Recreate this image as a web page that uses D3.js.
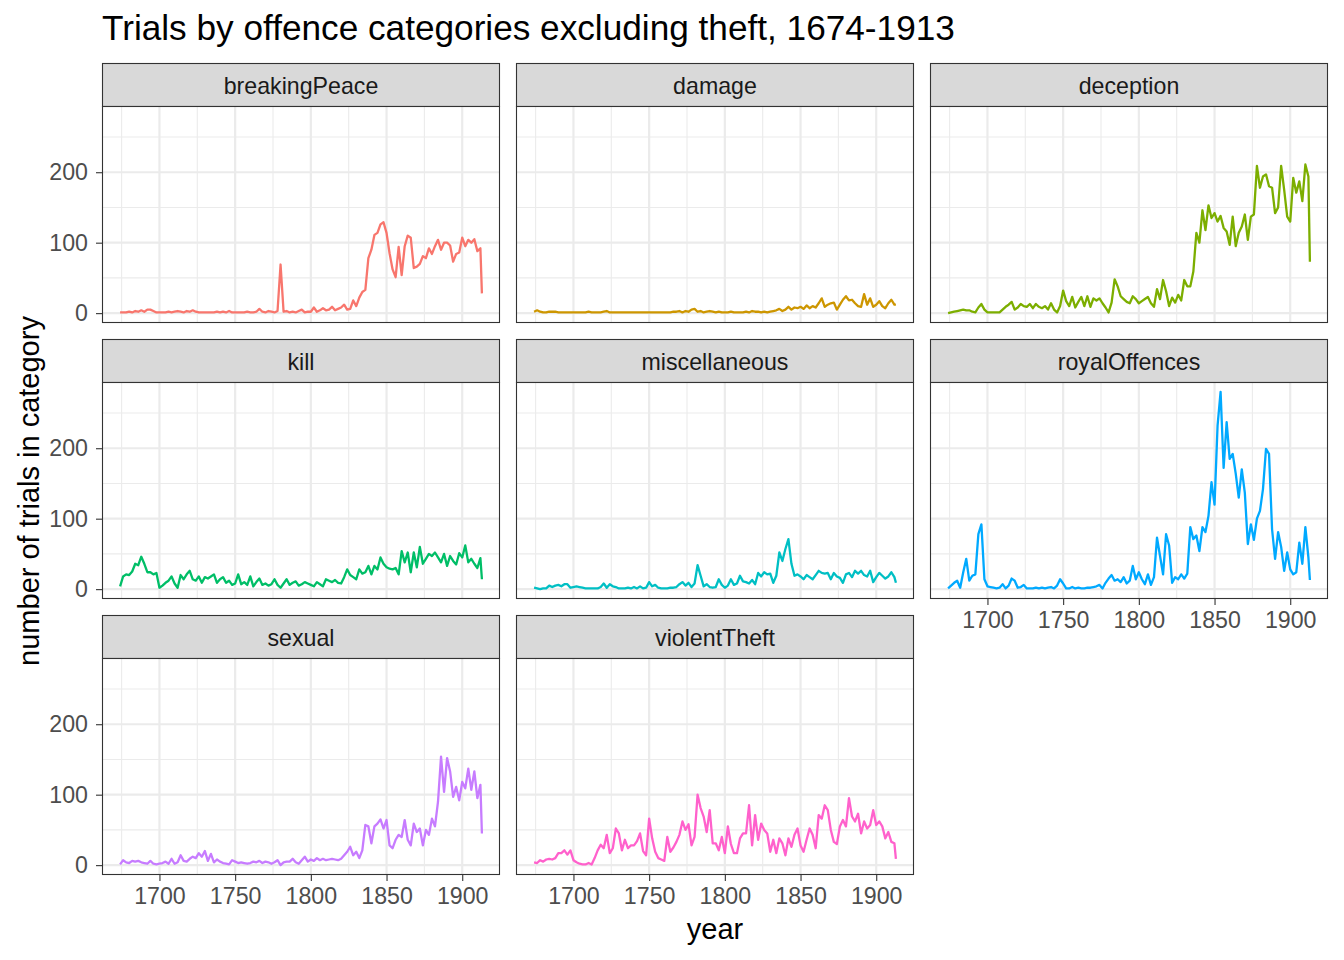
<!DOCTYPE html>
<html>
<head>
<meta charset="utf-8">
<script src="https://cdn.jsdelivr.net/npm/d3@7"></script>
<style>
  body { margin: 0; background: #fff; }
  text { font-family: "Liberation Sans", Arial, Helvetica, sans-serif; }
</style>
</head>
<body>
<div id="chart"></div>
<script>
// years sampled every second year, plus the last year of the series
const YEARS = d3.range(1674, 1913, 2).concat([1913]);

const CATEGORIES = ['breakingPeace', 'damage', 'deception', 'kill',
                    'miscellaneous', 'royalOffences', 'sexual', 'violentTheft'];
const COLOURS = ['#F8766D', '#CD9600', '#7CAE00', '#00BE67',
                 '#00BFC4', '#00A9FF', '#C77CFF', '#FF61CC'];

const breakingPeace = [
  1,1,1,2,1,3,2,4,2,5,
  5,3,1,1,1,1,2,1,2,3,
  2,1,3,2,4,2,1,1,1,1,
  1,1,2,1,2,1,3,1,1,1,
  1,1,2,1,1,2,6,2,1,3,
  2,1,3,69,2,3,1,2,1,3,
  5,1,2,2,8,2,4,7,4,5,
  9,4,6,8,12,5,6,18,10,22,
  30,33,78,90,111,114,126,129,114,85,
  62,51,94,54,95,110,107,64,66,70,
  81,78,92,84,95,104,90,100,100,96,
  73,84,86,107,95,104,100,105,88,92,
  28];
const damage = [
  2,4,2,1,1,2,2,2,1,1,
  1,1,1,1,1,1,1,1,2,1,
  1,1,1,2,3,1,1,1,1,1,
  1,1,1,1,1,1,1,1,1,1,
  1,1,1,1,1,1,2,2,3,1,
  3,2,5,6,2,3,1,2,3,2,
  1,2,1,1,1,2,1,1,1,1,
  2,1,3,2,2,1,2,1,2,3,
  4,6,3,5,9,5,8,7,9,6,
  11,7,10,8,14,21,9,12,14,15,
  5,12,19,24,18,19,14,10,9,27,
  12,21,9,12,17,10,7,14,19,12,
  12];
const deception = [
  0,1,2,3,4,5,4,4,2,1,
  8,13,5,1,1,1,1,1,5,9,
  12,16,5,8,13,10,9,13,7,13,
  9,7,10,5,14,5,1,10,32,17,
  10,23,8,16,23,10,24,9,21,18,
  21,14,8,1,15,48,38,24,20,16,
  14,24,20,14,17,20,23,14,9,34,
  20,47,31,10,22,15,26,18,47,38,
  38,59,114,100,146,118,153,135,142,130,
  138,121,116,97,137,95,114,123,140,104,
  137,140,209,178,194,197,180,178,142,150,
  209,175,137,130,192,171,187,159,211,194,
  73];
const kill = [
  4,18,21,20,25,36,34,46,36,24,
  24,21,23,2,5,9,12,18,8,2,
  20,14,21,26,14,12,18,9,17,15,
  18,21,9,14,17,9,12,6,8,21,
  7,10,6,18,4,10,15,6,8,5,
  7,14,6,2,8,14,6,9,11,5,
  7,10,8,6,4,10,7,4,14,12,
  10,13,9,8,17,28,20,17,14,28,
  22,24,33,21,33,28,45,36,31,29,
  28,30,21,54,38,52,24,52,31,60,
  36,43,50,47,52,45,38,50,33,47,
  40,35,51,45,62,38,43,36,30,44,
  14];
const miscellaneous = [
  2,1,0,1,1,5,3,5,6,4,
  7,7,2,3,4,3,2,1,1,1,
  1,1,3,8,2,7,4,3,1,1,
  1,2,1,3,1,4,1,2,10,4,
  6,2,1,1,1,2,2,3,7,10,
  5,9,3,8,34,19,4,7,3,2,
  3,14,6,2,5,14,6,8,19,11,
  10,8,13,7,23,18,24,21,22,9,
  19,52,40,57,71,36,19,21,18,14,
  20,17,14,20,26,23,22,23,14,23,
  18,16,9,21,23,17,26,22,26,20,
  18,26,10,17,23,19,15,18,24,17,
  9];
const royalOffences = [
  1,5,9,12,2,24,43,12,19,21,
  78,92,14,4,3,2,1,2,7,1,
  5,15,12,2,3,6,1,1,1,2,
  1,2,1,2,3,1,5,14,8,1,
  1,3,1,2,1,1,2,2,3,4,
  6,1,9,15,20,12,14,10,17,8,
  12,33,14,24,14,7,21,6,17,73,
  47,21,78,62,9,17,14,21,15,22,
  88,71,76,54,88,81,104,152,120,232,
  280,172,237,185,192,164,130,170,137,64,
  92,70,100,111,142,199,192,85,43,81,
  60,26,52,28,21,24,66,36,88,45,
  13];
const sexual = [
  1,7,4,3,6,5,6,4,3,2,
  6,2,1,2,3,5,2,9,2,4,
  14,6,5,9,12,10,17,12,20,6,
  16,4,8,5,3,2,1,7,5,3,
  4,3,2,3,5,4,6,3,5,4,
  2,4,7,0,4,5,5,9,4,2,
  7,12,5,8,6,10,7,9,7,8,
  9,8,7,9,14,19,26,14,19,10,
  21,57,55,31,55,59,65,52,64,28,
  24,36,43,40,64,36,28,59,47,52,
  28,50,43,66,55,90,154,104,152,133,
  97,111,92,118,109,137,107,133,95,114,
  45];
const violentTheft = [
  4,3,7,5,8,9,8,10,17,17,
  21,15,21,7,4,2,1,1,3,1,
  10,21,29,24,43,17,24,52,45,21,
  36,24,28,28,34,45,20,14,66,38,
  19,10,8,6,40,19,25,33,43,62,
  50,58,28,40,100,81,69,47,78,31,
  31,21,40,17,55,30,17,17,38,45,
  45,85,28,71,36,59,50,45,19,36,
  17,38,31,14,38,26,43,52,28,19,
  36,52,43,24,71,66,85,78,50,33,
  30,55,64,55,95,69,62,73,45,62,
  52,57,78,57,62,55,38,47,33,31,
  9];

const SERIES = [breakingPeace, damage, deception, kill,
                miscellaneous, royalOffences, sexual, violentTheft];

const X_MAJOR = [1700, 1750, 1800, 1850, 1900];
const X_MINOR = [1675, 1725, 1775, 1825, 1875];
const Y_MAJOR = [0, 100, 200];
const Y_MINOR = [50, 150, 250];

const TITLE = "Trials by offence categories excluding theft, 1674-1913";
const X_TITLE = "year";
const Y_TITLE = "number of trials in category";

// layout
var width = 1344, height = 960;
var panelLeft = 102, panelTop = 63, colStep = 414, rowStep = 276;
var panelW = 398, stripH = 43, plotH = 217;
var nCol = 3;
var SMALL = "23.2px", MID = "29px", BIG = "35.2px";

var svg = d3.select("#chart")
  .append("svg")
    .attr("width", width)
    .attr("height", height);

// shared scales (ggplot style 5% expansion)
var xMin = d3.min(YEARS), xMax = d3.max(YEARS);
var xPad = (xMax - xMin) * 0.05;
var x = d3.scaleLinear()
          .domain([xMin - xPad, xMax + xPad])
          .range([0, panelW]);
var yMax = d3.max(SERIES, function(s) { return d3.max(s); });
var yMinV = d3.min(SERIES, function(s) { return d3.min(s); });
var yPad = (yMax - yMinV) * 0.05;
var y = d3.scaleLinear()
          .domain([yMinV - yPad, yMax + yPad])
          .range([plotH, 0]);

var line = d3.line()
  .x(function(d) { return x(d.year); })
  .y(function(d) { return y(d.value); });

svg.append("defs").append("clipPath")
    .attr("id", "panel-clip")
  .append("rect")
    .attr("width", panelW)
    .attr("height", plotH);

CATEGORIES.forEach(function(cat, i) {
  var col = i % nCol, row = Math.floor(i / nCol);
  var px = panelLeft + col * colStep;
  var py = panelTop + row * rowStep;

  // strip
  var strip = svg.append("g").attr("transform", "translate(" + px + "," + py + ")");
  strip.append("rect")
      .attr("x", 0.5).attr("y", 0.5)
      .attr("width", panelW - 1).attr("height", stripH)
      .attr("fill", "#D9D9D9")
      .attr("stroke", "#333333")
      .attr("stroke-width", 1.1);
  strip.append("text")
      .attr("x", panelW / 2)
      .attr("y", stripH / 2 + 1)
      .attr("dy", "0.35em")
      .attr("text-anchor", "middle")
      .attr("font-size", SMALL)
      .attr("fill", "#1A1A1A")
      .text(cat);

  // panel
  var g = svg.append("g").attr("transform", "translate(" + px + "," + (py + stripH) + ")");
  g.append("rect")
      .attr("width", panelW).attr("height", plotH)
      .attr("fill", "#fff");

  g.selectAll(".yminor").data(Y_MINOR).enter().append("line")
      .attr("x1", 0).attr("x2", panelW)
      .attr("y1", function(d) { return y(d); })
      .attr("y2", function(d) { return y(d); })
      .attr("stroke", "#EBEBEB").attr("stroke-width", 1.1);
  g.selectAll(".xminor").data(X_MINOR).enter().append("line")
      .attr("y1", 0).attr("y2", plotH)
      .attr("x1", function(d) { return x(d); })
      .attr("x2", function(d) { return x(d); })
      .attr("stroke", "#EBEBEB").attr("stroke-width", 1.1);
  g.selectAll(".ymajor").data(Y_MAJOR).enter().append("line")
      .attr("x1", 0).attr("x2", panelW)
      .attr("y1", function(d) { return y(d); })
      .attr("y2", function(d) { return y(d); })
      .attr("stroke", "#EBEBEB").attr("stroke-width", 2.2);
  g.selectAll(".xmajor").data(X_MAJOR).enter().append("line")
      .attr("y1", 0).attr("y2", plotH)
      .attr("x1", function(d) { return x(d); })
      .attr("x2", function(d) { return x(d); })
      .attr("stroke", "#EBEBEB").attr("stroke-width", 2.2);

  var data = YEARS.map(function(yr, j) { return {year: yr, value: SERIES[i][j]}; });
  g.append("path")
      .datum(data)
      .attr("clip-path", "url(#panel-clip)")
      .attr("fill", "none")
      .attr("stroke", COLOURS[i])
      .attr("stroke-width", 2.3)
      .attr("stroke-linejoin", "round")
      .attr("d", line);

  g.append("rect")
      .attr("x", 0.5).attr("y", 0.5)
      .attr("width", panelW - 1).attr("height", plotH - 1)
      .attr("fill", "none")
      .attr("stroke", "#333333")
      .attr("stroke-width", 1.1);

  // y axis on first column
  if (col === 0) {
    var ya = g.append("g")
      .call(d3.axisLeft(y).tickValues(Y_MAJOR).tickSize(6).tickPadding(8));
    styleAxis(ya);
  }
  // x axis on the lowest panel of each column
  var below = i + nCol;
  if (below >= CATEGORIES.length) {
    var xa = g.append("g")
      .attr("transform", "translate(0," + plotH + ")")
      .call(d3.axisBottom(x).tickValues(X_MAJOR).tickFormat(d3.format("d"))
              .tickSize(6).tickPadding(7));
    styleAxis(xa);
  }
});

function styleAxis(a) {
  a.select(".domain").remove();
  a.selectAll(".tick line").attr("stroke", "#333333").attr("stroke-width", 1.1);
  a.selectAll(".tick text")
    .attr("font-size", SMALL)
    .attr("fill", "#4D4D4D")
    .attr("font-family", '"Liberation Sans", Arial, Helvetica, sans-serif');
}

// titles
svg.append("text")
    .attr("x", panelLeft)
    .attr("y", 40)
    .attr("font-size", BIG)
    .attr("fill", "#000")
    .text(TITLE);

svg.append("text")
    .attr("x", panelLeft + (2 * colStep + panelW) / 2)
    .attr("y", 939)
    .attr("text-anchor", "middle")
    .attr("font-size", MID)
    .attr("fill", "#000")
    .text(X_TITLE);

svg.append("text")
    .attr("transform", "translate(39,491) rotate(-90)")
    .attr("text-anchor", "middle")
    .attr("font-size", MID)
    .attr("fill", "#000")
    .text(Y_TITLE);
</script>
</body>
</html>
